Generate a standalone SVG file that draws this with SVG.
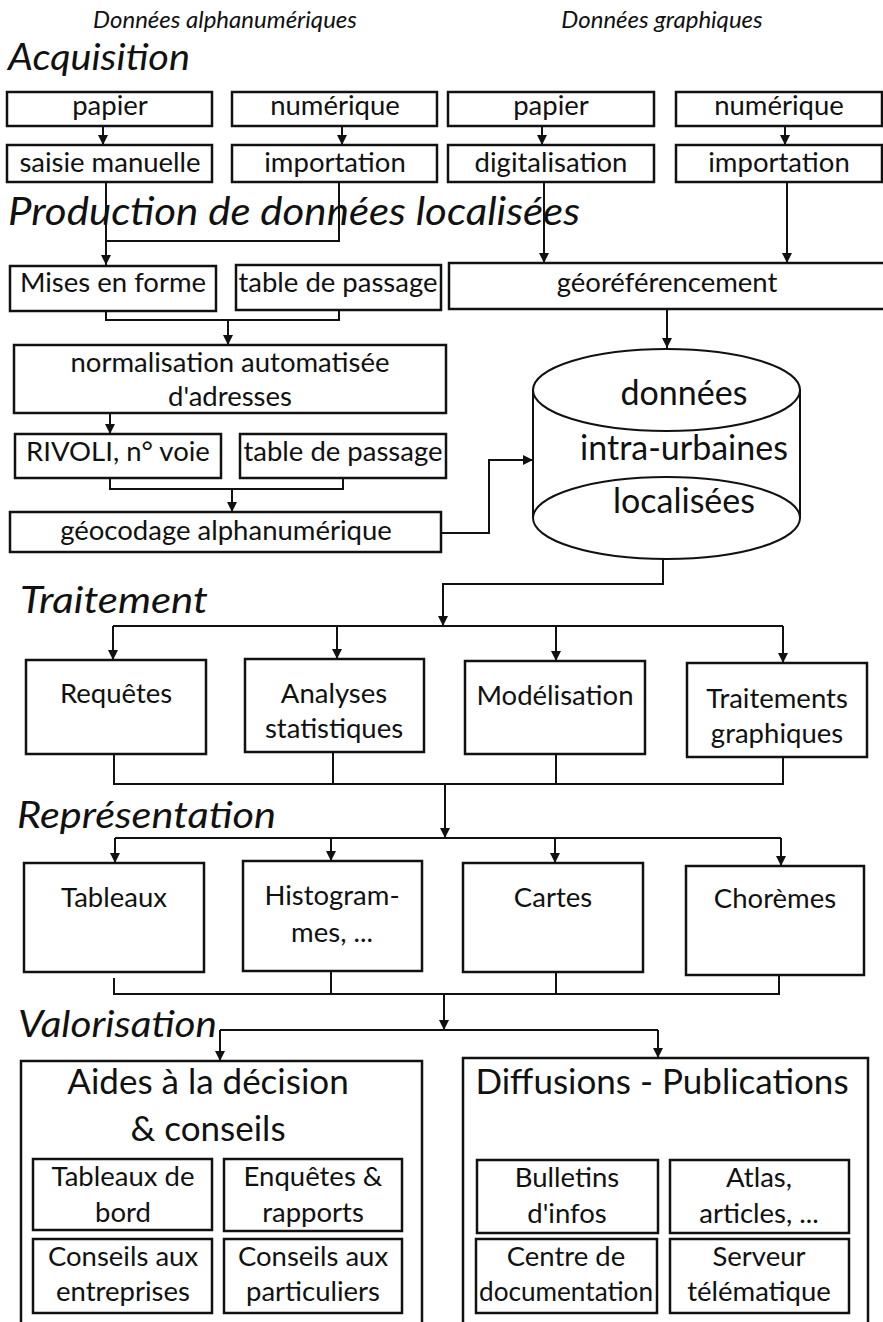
<svg xmlns="http://www.w3.org/2000/svg" width="883" height="1322" viewBox="0 0 883 1322">
<style>
text{font-family:Lato,"Open Sans","Liberation Sans",sans-serif;fill:#111;text-anchor:middle}
.t{font-size:27.5px}
.big{font-size:34px}
.tt{font-size:35px}
.h{font-style:italic;font-size:37px;text-anchor:start}
.sub{font-style:italic;font-size:24px}
.box{fill:#fff;stroke:#111;stroke-width:2.5}
.c{fill:none;stroke:#111;stroke-width:2}
.a{fill:none;stroke:#111;stroke-width:2;marker-end:url(#arr)}
</style>
<defs>
<marker id="arr" markerUnits="userSpaceOnUse" markerWidth="11" markerHeight="11" refX="10" refY="5" orient="auto">
<path d="M0,0 L10,5 L0,10 z" fill="#111"/>
</marker>
</defs>
<rect width="883" height="1322" fill="#fff"/>

<g id="headings">
<text class="sub" x="225" y="28">Données alphanumériques</text>
<text class="sub" x="662" y="28">Données graphiques</text>
<text class="h" x="8" y="70" textLength="182" lengthAdjust="spacingAndGlyphs">Acquisition</text>
<text class="h" x="8" y="225" textLength="572" lengthAdjust="spacingAndGlyphs" style="font-size:39px">Production de données localisées</text>
<text class="h" x="20" y="613" textLength="188" lengthAdjust="spacingAndGlyphs">Traitement</text>
<text class="h" x="17" y="828" textLength="259" lengthAdjust="spacingAndGlyphs">Représentation</text>
<text class="h" x="18" y="1037" textLength="199" lengthAdjust="spacingAndGlyphs">Valorisation</text>
</g>

<g id="connectors">
<path class="a" d="M103,126 V145"/>
<path class="a" d="M342,126 V145"/>
<path class="a" d="M542,126 V145"/>
<path class="a" d="M785,126 V145"/>
<path class="c" d="M339,182 V241 H106"/>
<path class="a" d="M106,182 V265"/>
<path class="a" d="M544,182 V263"/>
<path class="a" d="M787,182 V263"/>
<path class="c" d="M106,311 V320 H339 V310"/>
<path class="a" d="M228,320 V345"/>
<path class="a" d="M667,309 V348"/>
<path class="a" d="M110,413 V434"/>
<path class="c" d="M110,478 V489 H343 V478"/>
<path class="a" d="M232,489 V512"/>
<path class="a" d="M441,533 H489 V460 H533"/>
<path class="a" d="M663,559 V584 H443 V626"/>
<path class="c" d="M113,626 H783"/>
<path class="a" d="M113,626 V660"/>
<path class="a" d="M337,626 V659"/>
<path class="a" d="M556,626 V661"/>
<path class="a" d="M783,626 V663"/>
<path class="c" d="M114,754 V784 H783 V757"/>
<path class="c" d="M333,752 V784"/>
<path class="c" d="M556,754 V784"/>
<path class="a" d="M445,784 V838"/>
<path class="c" d="M115,838 H781"/>
<path class="a" d="M115,838 V863"/>
<path class="a" d="M331,838 V861"/>
<path class="a" d="M555,838 V863"/>
<path class="a" d="M781,838 V866"/>
<path class="c" d="M114,978 V994 H779 V975"/>
<path class="c" d="M331,971 V994"/>
<path class="c" d="M556,972 V994"/>
<path class="a" d="M444,994 V1030"/>
<path class="c" d="M220,1030 H658"/>
<path class="a" d="M220,1030 V1061"/>
<path class="a" d="M658,1030 V1058"/>
</g>

<g id="n-papier1"><rect class="box" x="7" y="92" width="205" height="34"/><text class="t" x="110" y="115">papier</text></g>
<g id="n-numerique1"><rect class="box" x="232" y="92" width="205" height="34"/><text class="t" x="335" y="115">numérique</text></g>
<g id="n-papier2"><rect class="box" x="448" y="92" width="206" height="34"/><text class="t" x="551" y="115">papier</text></g>
<g id="n-numerique2"><rect class="box" x="676" y="92" width="206" height="34"/><text class="t" x="779" y="115">numérique</text></g>

<g id="n-saisie"><rect class="box" x="7" y="145" width="205" height="37"/><text class="t" x="110" y="172">saisie manuelle</text></g>
<g id="n-import1"><rect class="box" x="232" y="145" width="205" height="37"/><text class="t" x="335" y="172">importation</text></g>
<g id="n-digit"><rect class="box" x="448" y="145" width="206" height="37"/><text class="t" x="551" y="172">digitalisation</text></g>
<g id="n-import2"><rect class="box" x="676" y="145" width="206" height="37"/><text class="t" x="779" y="172">importation</text></g>

<g id="n-mises"><rect class="box" x="10" y="266" width="206" height="45"/><text class="t" x="113" y="292">Mises en forme</text></g>
<g id="n-table1"><rect class="box" x="236" y="265" width="205" height="45"/><text class="t" x="338" y="292">table de passage</text></g>
<g id="n-georef"><rect class="box" x="449" y="263" width="436" height="46"/><text class="t" x="667" y="292">géoréférencement</text></g>

<g id="n-normal"><rect class="box" x="14" y="345" width="432" height="68"/><text class="t" x="230" y="372">normalisation automatisée</text><text class="t" x="230" y="406">d'adresses</text></g>
<g id="n-rivoli"><rect class="box" x="15" y="434" width="206" height="44"/><text class="t" x="118" y="461">RIVOLI, n° voie</text></g>
<g id="n-table2"><rect class="box" x="240" y="434" width="206" height="44"/><text class="t" x="343" y="461">table de passage</text></g>
<g id="n-geocod"><rect class="box" x="10" y="512" width="431" height="40"/><text class="t" x="226" y="540">géocodage alphanumérique</text></g>

<g id="n-cylindre">
<path d="M533,390 V518 A133.5,41 0 0 0 800,518 V390 Z" fill="#fff" stroke="#111" stroke-width="2"/>
<ellipse cx="666.5" cy="390" rx="133.5" ry="41" fill="#fff" stroke="#111" stroke-width="2"/>
<path d="M533,518 A133.5,41 0 0 1 800,518" fill="none" stroke="#111" stroke-width="2"/>
<text class="big" x="684" y="405">données</text>
<text class="big" x="684" y="460">intra-urbaines</text>
<text class="big" x="684" y="513">localisées</text>
</g>

<g id="n-requetes"><rect class="box" x="26" y="660" width="180" height="94"/><text class="t" x="116" y="703">Requêtes</text></g>
<g id="n-analyses"><rect class="box" x="245" y="659" width="179" height="93"/><text class="t" x="334" y="703">Analyses</text><text class="t" x="334" y="738">statistiques</text></g>
<g id="n-modelis"><rect class="box" x="465" y="661" width="180" height="93"/><text class="t" x="555" y="705">Modélisation</text></g>
<g id="n-traitgraph"><rect class="box" x="687" y="663" width="180" height="94"/><text class="t" x="777" y="708">Traitements</text><text class="t" x="777" y="743">graphiques</text></g>

<g id="n-tableaux"><rect class="box" x="24" y="863" width="180" height="109"/><text class="t" x="114" y="907">Tableaux</text></g>
<g id="n-histo"><rect class="box" x="243" y="861" width="179" height="110"/><text class="t" x="332" y="905">Histogram-</text><text class="t" x="332" y="942">mes, ...</text></g>
<g id="n-cartes"><rect class="box" x="463" y="863" width="180" height="109"/><text class="t" x="553" y="907">Cartes</text></g>
<g id="n-choremes"><rect class="box" x="686" y="866" width="178" height="109"/><text class="t" x="775" y="908">Chorèmes</text></g>

<g id="n-aides">
<rect class="box" x="21" y="1061" width="401" height="290"/>
<text class="tt" x="208" y="1094">Aides à la décision</text>
<text class="tt" x="208" y="1141">&amp; conseils</text>
</g>
<g id="n-diffusions">
<rect class="box" x="463" y="1058" width="405" height="290"/>
<text class="tt" x="662" y="1094">Diffusions - Publications</text>
</g>

<g id="n-tabbord"><rect class="box" x="33" y="1159" width="179" height="71"/><text class="t" x="123" y="1186">Tableaux de</text><text class="t" x="123" y="1222">bord</text></g>
<g id="n-enquetes"><rect class="box" x="224" y="1159" width="178" height="72"/><text class="t" x="313" y="1186">Enquêtes &amp;</text><text class="t" x="313" y="1222">rapports</text></g>
<g id="n-consent"><rect class="box" x="33" y="1239" width="179" height="74"/><text class="t" x="123" y="1266">Conseils aux</text><text class="t" x="123" y="1301">entreprises</text></g>
<g id="n-conspart"><rect class="box" x="224" y="1239" width="178" height="74"/><text class="t" x="313" y="1266">Conseils aux</text><text class="t" x="313" y="1301">particuliers</text></g>

<g id="n-bulletins"><rect class="box" x="477" y="1160" width="181" height="73"/><text class="t" x="567" y="1187">Bulletins</text><text class="t" x="567" y="1223">d'infos</text></g>
<g id="n-atlas"><rect class="box" x="670" y="1160" width="179" height="73"/><text class="t" x="759" y="1187">Atlas,</text><text class="t" x="759" y="1223">articles, ...</text></g>
<g id="n-centre"><rect class="box" x="476" y="1239" width="181" height="74"/><text class="t" x="566" y="1266">Centre de</text><text class="t" x="566" y="1301" textLength="174" lengthAdjust="spacingAndGlyphs">documentation</text></g>
<g id="n-serveur"><rect class="box" x="670" y="1239" width="179" height="74"/><text class="t" x="759" y="1266">Serveur</text><text class="t" x="759" y="1301">télématique</text></g>
</svg>
